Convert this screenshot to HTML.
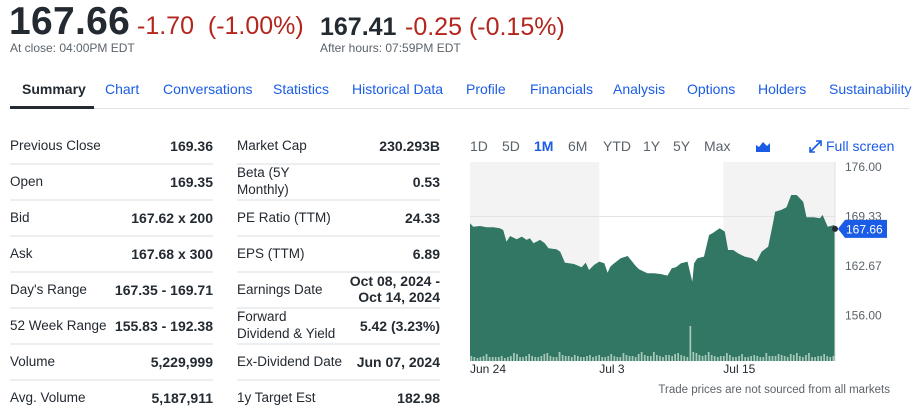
<!DOCTYPE html>
<html><head><meta charset="utf-8">
<style>
*{margin:0;padding:0;box-sizing:border-box}
body{width:920px;height:420px;background:#fff;font-family:"Liberation Sans",sans-serif;color:#232a31;position:relative;overflow:hidden}
.a{position:absolute;white-space:nowrap}
.tab{position:absolute;top:81px;font-size:14px;color:#1a5ce6}
.lbl{position:absolute;font-size:13.5px;color:#232a31}
.val{position:absolute;font-size:14px;font-weight:bold;text-align:right}
.sep{position:absolute;height:2px;background:#eceff1}
.rng{position:absolute;top:138px;font-size:14px;color:#5b636a}
</style></head><body>
<div class="a" style="left:9px;top:0px;font-size:39px;font-weight:bold;letter-spacing:0.3px">167.66</div>
<div class="a" style="left:137px;top:12px;font-size:25px;color:#b3261e">-1.70 &nbsp;(-1.00%)</div>
<div class="a" style="left:10px;top:41px;font-size:12px;color:#5b636a">At close: 04:00PM EDT</div>
<div class="a" style="left:320px;top:13px;font-size:25px;font-weight:bold">167.41</div>
<div class="a" style="left:405px;top:13px;font-size:25px;color:#b3261e">-0.25 (-0.15%)</div>
<div class="a" style="left:320px;top:41px;font-size:12px;color:#5b636a">After hours: 07:59PM EDT</div>

<div class="tab" style="left:22px;color:#232a31;font-weight:bold">Summary</div>
<div class="tab" style="left:105px">Chart</div>
<div class="tab" style="left:163px">Conversations</div>
<div class="tab" style="left:273px">Statistics</div>
<div class="tab" style="left:352px">Historical Data</div>
<div class="tab" style="left:466px">Profile</div>
<div class="tab" style="left:530px">Financials</div>
<div class="tab" style="left:613px">Analysis</div>
<div class="tab" style="left:687px">Options</div>
<div class="tab" style="left:758px">Holders</div>
<div class="tab" style="left:829px">Sustainability</div>
<div class="a" style="left:10px;top:108px;width:900px;height:1px;background:#e0e4e9"></div>
<div class="a" style="left:10px;top:106px;width:84px;height:3px;background:#232a31"></div>

<div id="stats"></div>

<div class="rng" style="left:470px">1D</div>
<div class="rng" style="left:502px">5D</div>
<div class="rng" style="left:534px;color:#1a5ce6;font-weight:bold">1M</div>
<div class="rng" style="left:568px">6M</div>
<div class="rng" style="left:603px">YTD</div>
<div class="rng" style="left:643px">1Y</div>
<div class="rng" style="left:673px">5Y</div>
<div class="rng" style="left:704px">Max</div>
<svg class="a" style="left:756px;top:141px" width="14" height="11"><path d="M0 11V4l3 2 4-5 4 4 3-3v9z" fill="#1a5ce6"/></svg>
<svg class="a" style="left:809px;top:140px" width="13" height="13"><path d="M1 12L12 1M7 1h5v5M1 7v5h5" stroke="#1a5ce6" stroke-width="1.6" fill="none"/></svg>
<div class="a" style="left:826px;top:138px;font-size:14px;color:#1a5ce6">Full screen</div>

<svg id="chart" class="a" style="left:0;top:0" width="920" height="420"></svg>

<script>
const times=[0,0.9,2.7,4.6,6.4,8.2,9.1,10.0,11.0,12.8,14.2,15.5,16.4,17.4,19.2,20.5,21.5,23.7,24.7,26.0,28.5,30.6,31.7,32.6,34.0,35.4,36.8,37.7,38.4,39.5,41.3,43.2,45.4,46.3,48.6,50.4,52.2,54.1,55.3,56.4,57.8,59.6,60.9,61.4,62.3,64.1,65.5,66.4,68.4,69.8,70.7,72.1,73.4,75.3,77.2,78.5,79.9,81.7,83.1,83.6,85.2,86.7,88.0,89.5,91.3,92.2,94.1,95.9,96.6,98.0,99.8,100,100];
const prices=[168.41,167.96,168.05,167.87,167.87,167.74,167.51,165.94,166.70,166.26,166.62,166.17,166.39,165.72,166.17,165.72,165.04,164.91,164.59,163.11,162.93,162.48,163.11,162.12,162.80,163.25,163.02,161.76,162.57,163.02,163.70,164.01,162.66,162.21,161.67,161.67,161.58,161.36,162.35,162.48,163.02,163.25,160.55,163.02,163.70,163.92,166.84,167.06,167.74,167.29,164.82,164.82,164.37,163.92,163.70,163.25,164.59,165.27,168.64,169.98,170.21,170.57,172.23,172.23,171.33,169.22,169.22,169.09,169.54,167.96,168.19,167.74,167.66];
const volumes=[5,4,3,4,5,7,4,4,4,4,5,3,4,5,8,7,4,4,5,7,5,4,4,5,7,8,5,4,4,9,6,5,5,4,6,5,4,4,5,6,4,5,6,4,4,5,7,5,4,4,8,6,5,5,4,7,9,6,5,5,9,6,5,4,6,6,5,7,8,6,5,4,35,9,8,6,5,6,9,6,5,4,5,5,8,6,4,4,5,7,4,4,5,6,5,4,4,8,5,5,5,7,6,5,4,7,6,8,5,4,6,8,4,4,5,5,7,5,4,5];
const yTicks=[176.00,169.33,162.67,156.00];
const xLabels=["Jun 24","Jul 3","Jul 15"];
const xLabelTimes=[0,35.4,69.4];
const shadeRanges=[[0,35.4],[69.4,100]];
const lastPrice=167.66, prevClose=169.33;

const X0=470,X1=835,YT=162,YB=361;
const x=t=>X0+(X1-X0)*t/100;
const y=v=>167+(176-v)*7.42;
const NS="http://www.w3.org/2000/svg";
const svg=document.getElementById('chart');
function mk(tag,attrs,parent){const e=document.createElementNS(NS,tag);for(const k in attrs)e.setAttribute(k,attrs[k]);(parent||svg).appendChild(e);return e;}
shadeRanges.forEach(r=>{
  const e=mk('rect',{x:x(r[0]),y:YT,width:x(r[1])-x(r[0]),height:YB-YT,fill:'#f3f3f3'});
  
  
});
const gl=mk('line',{x1:X0,x2:X1,y1:y(prevClose),y2:y(prevClose),stroke:'#e4e4e4','stroke-width':1});


let d='M'+x(times[0])+','+YB;
prices.forEach((p,i)=>{d+=' L'+x(times[i]).toFixed(1)+','+y(p).toFixed(1);});
d+=' L'+x(times[prices.length-1])+','+YB+' Z';
const area=mk('path',{d:d,fill:'#327763'});


const bw=(X1-X0)/volumes.length;
volumes.forEach((v,i)=>{
  const b=mk('rect',{x:(X0+i*bw+0.5).toFixed(1),y:YB-v,width:(bw-1.3).toFixed(1),height:v,fill:'#a9c9bb'});
  
  
});
const ax=mk('line',{x1:X1,x2:X1,y1:YT,y2:YB,stroke:'#e0e0e0'});


yTicks.forEach(v=>{
  const t=mk('text',{x:845,y:y(v)+4,'font-size':12,fill:'#5b636a','font-family':'Liberation Sans'});
  t.textContent=v.toFixed(2);
  
  
});
xLabels.forEach((l,i)=>{
  const t=mk('text',{x:x(xLabelTimes[i]),y:373,'font-size':12,fill:'#232a31','font-family':'Liberation Sans'});
  t.textContent=l;
  
  
});
const ly=y(lastPrice);
const tag=mk('path',{d:`M838,${ly} L845,${ly-9} H887 V${ly+9} H845 Z`,fill:'#1a5ce6'});


const tt=mk('text',{x:846,y:ly+4.5,'font-size':12,fill:'#fff','font-family':'Liberation Sans'});
tt.textContent=lastPrice.toFixed(2);


const dot=mk('circle',{cx:X1,cy:ly,r:3,fill:'#232a31'});


const fn=mk('text',{x:890,y:393,'font-size':11.5,fill:'#5b636a','text-anchor':'end','font-family':'Liberation Sans'});
fn.textContent='Trade prices are not sourced from all markets';



const left=[["Previous Close","169.36"],["Open","169.35"],["Bid","167.62 x 200"],["Ask","167.68 x 300"],["Day's Range","167.35 - 169.71"],["52 Week Range","155.83 - 192.38"],["Volume","5,229,999"],["Avg. Volume","5,187,911"]];
const right=[["Market Cap","230.293B"],["Beta (5Y<br>Monthly)","0.53"],["PE Ratio (TTM)","24.33"],["EPS (TTM)","6.89"],["Earnings Date","Oct 08, 2024 -<br>Oct 14, 2024"],["Forward<br>Dividend &amp; Yield","5.42 (3.23%)"],["Ex-Dividend Date","Jun 07, 2024"],["1y Target Est","182.98"]];
const st=document.getElementById('stats');
let h='';
[[left,10,213],[right,237,440]].forEach(([rows,l,r])=>{
  rows.forEach((row,i)=>{
    const cy=146+i*36;
    const two=row[0].includes('<br>'), twoV=row[1].includes('<br>');
    h+=`<div class="lbl" style="left:${l}px;top:${two?cy-18:cy-9}px;line-height:${two?'17px':'18px'}">${row[0]}</div>`;
    h+=`<div class="val" style="right:${920-r}px;top:${twoV?cy-17:cy-9}px;line-height:${twoV?'16px':'18px'}">${row[1]}</div>`;
    if(i<7)h+=`<div class="sep" style="left:${l}px;width:${r-l}px;top:${cy+17}px"></div>`;
  });
});
st.innerHTML=h;
</script>
</body></html>
